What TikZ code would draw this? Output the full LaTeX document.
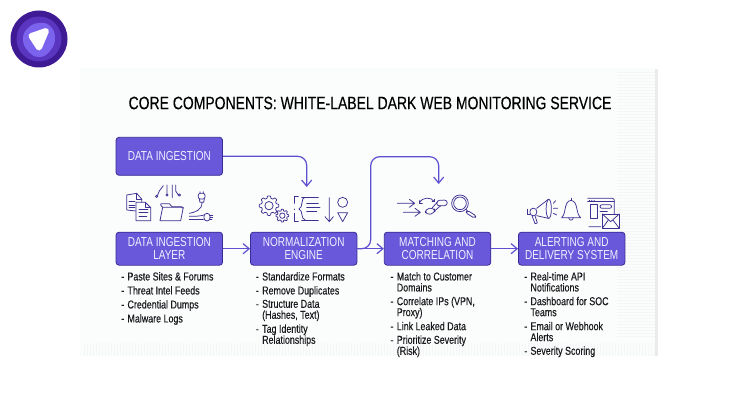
\documentclass[tikz,border=0pt]{standalone}
\usepackage{fontspec}
\setmainfont[FakeStretch=0.78,FakeBold=0.25]{Liberation Sans}
\newfontfamily\boxfont[FakeStretch=0.77]{Liberation Sans}
\usetikzlibrary{arrows.meta}
\definecolor{boxfill}{HTML}{6A58DA}
\definecolor{boxline}{HTML}{3A2A94}
\definecolor{boxtext}{HTML}{F1EFFF}
\definecolor{conn}{HTML}{5F50D2}
\definecolor{iconc}{HTML}{3F2F92}
\definecolor{panelc}{HTML}{FBFCFC}
\definecolor{texc}{HTML}{F5F6F7}
\definecolor{inkc}{HTML}{1A1A1E}
\definecolor{logoa}{HTML}{3E1A94}
\definecolor{logob}{HTML}{5A35C0}
\definecolor{logoc}{HTML}{7B63EE}
\tikzset{
  compbox/.style={draw=boxline,line width=0.8pt,fill=boxfill,rounded corners=3pt,minimum width=106.5pt,inner sep=0pt,text=boxtext,align=center,font=\boxfont\fontsize{13}{13}\selectfont},
  flow/.style={draw=conn,line width=1.2pt,rounded corners=9pt,-{Straight Barb[length=6pt,width=10pt,line width=1.2pt]}},
  listnode/.style={anchor=north west,inner sep=0pt,align=left,text=inkc,font=\fontsize{11.4}{11}\selectfont},
  icon/.style={draw=iconc,line width=0.75pt,line cap=round,line join=round},
}
\newcommand{\dashitem}[1]{\makebox[6.3pt][l]{-}#1}
\newcommand{\contline}[1]{\hspace*{6.3pt}#1}
\newcommand{\gearicon}[4]{\draw[icon] plot[domain=0:360,samples=109,smooth,variable=\t] ({#1+(#3+#3*0.13*tanh(3*cos(#4*\t)))*cos(\t)},{#2+(#3+#3*0.13*tanh(3*cos(#4*\t)))*sin(\t)}) -- cycle;
 \draw[icon] (#1,#2) circle ({#3*0.48});}
\pgfmathdeclarefunction*{tanh}{1}{\pgfmathparse{(exp(#1)-exp(-#1))/(exp(#1)+exp(-#1))}}
\begin{document}
\begin{tikzpicture}[x=1pt,y=-1pt]
\useasboundingbox (0,0) rectangle (740,420);
\fill[fill=white] (0,0) rectangle (740,420);
\fill[fill=black!8] (655,69) rectangle (657.5,356);
\fill[fill=panelc] (80,68) rectangle (655,356);
\foreach \yy in {72,75,...,340} {\draw[texc,line width=0.5pt] (617,\yy) -- (655,\yy);}
\foreach \xx in {84,87,...,654} {\draw[texc,line width=0.9pt] (\xx,343) -- (\xx,356);}
\fill[fill=panelc] (80,338) rectangle (655,343);
% logo
\fill[fill=logoa] (39,39) circle (28.5);
\fill[fill=logob] (39,39) circle (22.5);
\fill[fill=logoc] plot[smooth cycle,tension=0.8] coordinates {(39,23) (50,26) (55,38) (50,51) (39,57) (28,51) (23,39) (28,28)};
\fill[fill=white,draw=white,line width=6pt,line join=round] (31.5,36) -- (46,31) -- (39,47.5) -- cycle;
% title
\node[inner sep=0pt,text=black,font=\fontsize{17.9}{20}\selectfont] (title) at (370,103) {CORE COMPONENTS: WHITE-LABEL DARK WEB MONITORING SERVICE};
% boxes
\node[compbox,minimum height=38pt] (top) at (169.3,156.3) {DATA INGESTION};
\node[compbox,minimum height=33pt] (ing) at (169.3,248.7) {DATA INGESTION\\LAYER};
\node[compbox,minimum height=33pt] (norm) at (303.7,248.7) {NORMALIZATION\\ENGINE};
\node[compbox,minimum height=33pt] (match) at (437.5,248.7) {MATCHING AND\\CORRELATION};
\node[compbox,minimum height=33pt] (alert) at (571.7,248.7) {ALERTING AND\\DELIVERY SYSTEM};
% connectors
\coordinate (topend) at (306.7,187);
\coordinate (bend) at (370.7,156.7);
\coordinate (matchend) at (438.7,184);
\draw[flow] (top.east) -| (topend);
\draw[flow] (norm.east) -| (bend) -| (matchend);
\draw[flow] (ing.east) -- (norm.west);
\draw[flow] (norm.east) -- (match.west);
\draw[flow] (match.east) -- (alert.west);
% lists
\node[listnode] (l1) at (121,272) {\dashitem{Paste Sites \& Forums}\\[3pt]\dashitem{Threat Intel Feeds}\\[3pt]\dashitem{Credential Dumps}\\[3pt]\dashitem{Malware Logs}};
\node[listnode] (l2) at (255.7,272) {\dashitem{Standardize Formats}\\[3pt]\dashitem{Remove Duplicates}\\[2.3pt]\dashitem{Structure Data}\\\contline{(Hashes, Text)}\\[3pt]\dashitem{Tag Identity}\\\contline{Relationships}};
\node[listnode] (l3) at (390.3,272) {\dashitem{Match to Customer}\\\contline{Domains}\\[2.7pt]\dashitem{Correlate IPs (VPN,}\\\contline{Proxy)}\\[3pt]\dashitem{Link Leaked Data}\\[2.6pt]\dashitem{Prioritize Severity}\\\contline{(Risk)}};
\node[listnode] (l4) at (524,272) {\dashitem{Real-time API}\\\contline{Notifications}\\[2.7pt]\dashitem{Dashboard for SOC}\\\contline{Teams}\\[3pt]\dashitem{Email or Webhook}\\\contline{Alerts}\\[2.6pt]\dashitem{Severity Scoring}};
% ingestion icons (coordinates in 3x crop px)
\begin{scope}[shift={(110,175)},x=0.3333pt,y=-0.3333pt]
 \draw[icon] (50,60) -- (80,55) -- (95,72) -- (95,82) (50,60) -- (50,105) -- (78,108);
 \draw[icon] (80,55) -- (80,72) -- (95,72);
 \draw[icon] (57,80) -- (75,80) (57,90) -- (75,90) (57,98) -- (75,98);
 \draw[icon,fill=panelc] (78,82) -- (106,82) -- (122,98) -- (122,137) -- (78,137) -- cycle;
 \draw[icon] (106,82) -- (106,98) -- (122,98);
 \draw[icon] (87,103) -- (114,103) (87,113) -- (114,113) (87,123) -- (110,123);
 \draw[icon] (150,137) -- (158,97) -- (220,97) -- (212,137) -- cycle;
 \draw[icon] (158,97) -- (152,90) -- (153,86) -- (178,86) -- (186,95) -- (215,95) -- (218,100);
 \draw[icon] (140,64) circle (3.5) (143,60) -- (148,48) -- (160,32);
 \draw[icon] (171,60) circle (3.5) (171,56) -- (171,30) (187,30) -- (187,68);
 \draw[icon] (197,30) -- (197,48) -- (205,60) (208,60) circle (3.5);
 \draw[icon,rounded corners=2pt] (265,55) rectangle (285,72);
 \draw[icon] (268,72) -- (270,82) -- (281,82) -- (283,72) (270,50) -- (270,55) (280,50) -- (280,55);
 \draw[icon] (276,82) .. controls (277,105) and (255,112) .. (238,115);
 \draw[icon] (238,124) .. controls (255,124) and (268,124) .. (282,120);
 \draw[icon] (238,132) -- (280,132);
 \draw[icon,rounded corners=3pt] (282,115) rectangle (300,138);
 \draw[icon] (300,120) -- (308,120) (300,127) -- (308,127) (300,134) -- (306,134);
\end{scope}
% normalization icons
\begin{scope}[shift={(250,185)},x=0.3333pt,y=-0.3333pt]
 \gearicon{57}{62}{26}{8}
 \gearicon{97}{92}{17}{8}
 \draw[icon] (145,35) -- (133,35) -- (133,55) (133,85) -- (133,110) -- (145,110);
 \draw[icon] (133,72) -- (133,74);
 \draw[icon] (165,37) .. controls (152,37) and (160,68) .. (147,72) .. controls (160,76) and (152,104) .. (165,104);
 \draw[icon] (155,37) -- (205,37) (170,55) -- (205,55) (170,67) -- (210,67) (170,80) -- (200,80) (155,105) -- (205,105);
 \draw[icon] (238,38) -- (238,110) (225,95) -- (238,110) -- (250,95);
 \draw[icon] (278,52) circle (15);
 \draw[icon] (263,83) -- (293,83) -- (278,110) -- cycle;
\end{scope}
% matching icons
\begin{scope}[shift={(390,185)},x=0.3333pt,y=-0.3333pt]
 \draw[icon] (22,55) -- (73,55) (58,43) -- (74,55) -- (58,67);
 \draw[icon] (40,82) -- (90,82) (75,70) -- (91,82) -- (75,94);
 \draw[icon] (88,55) .. controls (95,35) and (125,35) .. (133,50);
 \draw[icon] (88,47) -- (88,55) -- (97,55) (126,50) -- (133,50) -- (133,43);
 \draw[icon,rounded corners=4pt] (105,72) -- (133,68) -- (136,84) -- (108,90) -- cycle;
 \draw[icon,rounded corners=3pt] (140,46) -- (172,45) -- (172,62) -- (140,63) -- cycle;
 \draw[icon] (127,68) -- (143,50) (136,76) -- (152,62);
 \draw[icon] (210,55) circle (25);
 \draw[icon] (210,55) circle (19);
 \draw[icon] (228,73) -- (233,78);
 \draw[icon,rounded corners=2pt] (232,76) -- (259,93) -- (254,100) -- (227,83) -- cycle;
\end{scope}
% alerting icons
\begin{scope}[shift={(520,185)},x=0.3333pt,y=-0.3333pt]
 \draw[icon,rounded corners=3pt] (30,70) rectangle (50,92);
 \draw[icon] (22,73) -- (22,88) -- (30,88);
 \draw[icon] (50,70) -- (85,43) (50,92) -- (85,100);
 \draw[icon] (85,43) .. controls (97,38) and (97,105) .. (85,100);
 \draw[icon] (85,43) .. controls (76,55) and (76,88) .. (85,100);
 \draw[icon] (36,92) -- (45,116) -- (52,114) -- (45,92);
 \draw[icon] (100,55) -- (107,47) (100,70) -- (113,70) (100,85) -- (110,90);
 \draw[icon] (125,98) .. controls (140,85) and (130,50) .. (153,46) .. controls (176,50) and (166,85) .. (182,98) -- cycle;
 \draw[icon] (153,46) -- (153,40);
 \draw[icon] (146,98) .. controls (148,108) and (158,108) .. (160,98);
 \draw[icon,rounded corners=2pt] (203,40) -- (283,40) -- (283,90) (246,125) -- (203,125) -- cycle;
 \draw[icon] (203,50) -- (283,50);
 \draw[icon] (208,45) -- (209,45) (215,45) -- (216,45) (222,45) -- (223,45);
 \draw[icon] (210,58) rectangle (232,100);
 \draw[icon,rounded corners=2pt] (240,59) rectangle (275,70);
 \draw[icon] (240,78) -- (262,78);
 \draw[icon,fill=panelc] (247,87) rectangle (298,130);
 \draw[icon] (247,87) -- (272,110) -- (298,87) (247,130) -- (265,105) (298,130) -- (279,105);
\end{scope}
\end{tikzpicture}
\end{document}
